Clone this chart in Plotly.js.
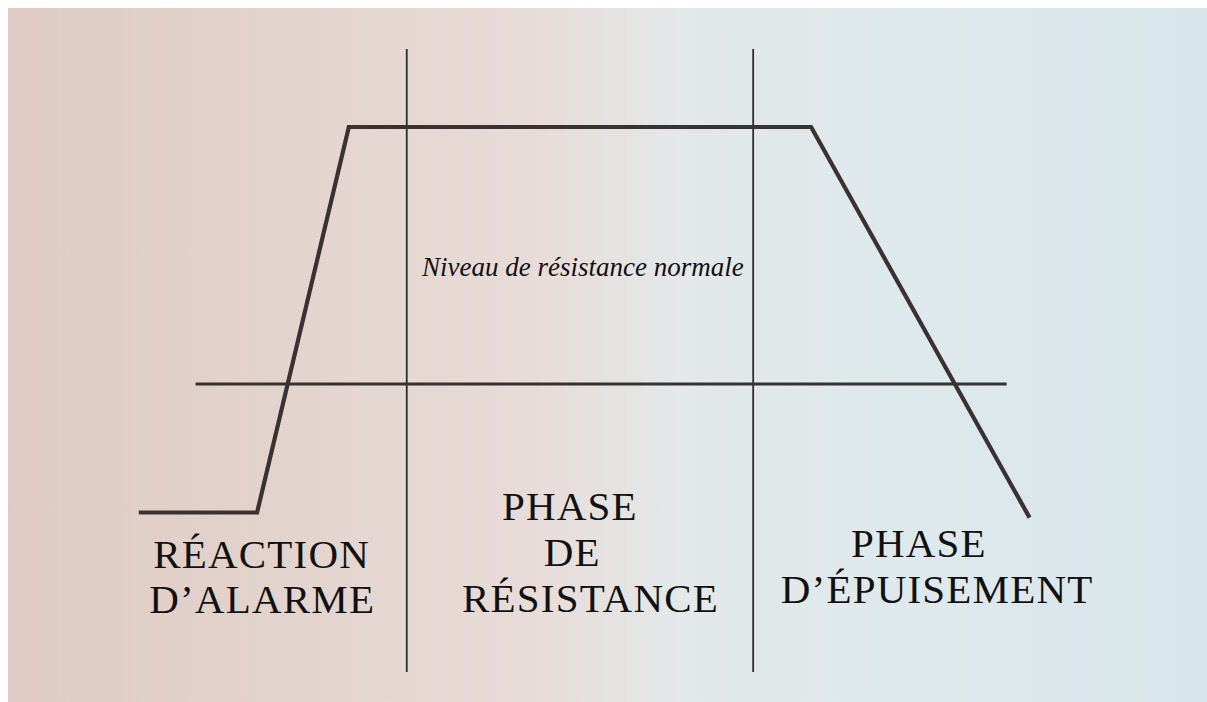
<html><head>
<meta charset="utf-8">
<style>
body {
  margin: 0;
  background: #ffffff;
  width: 1207px;
  height: 702px;
  overflow: hidden;
  position: relative;
}
.backdrop {
  position: absolute;
  left: 8px;
  top: 8px;
  right: 0;
  bottom: 0;
  background: linear-gradient(90deg, #dfcbc3 0%, #e3d4ce 25%, #e8dcd8 44%, #e3e8e9 56%, #dee9ec 75%, #d8e5ea 100%);
}
#chart {
  position: absolute;
  left: 0;
  top: 0;
}
#chart .annotation-text {
  letter-spacing: 1.2px;
}
#chart .annotation:last-child .annotation-text {
  letter-spacing: 0;
}
</style>
<script src="https://cdn.plot.ly/plotly-3.0.1.min.js"></script>
</head>
<body>
<div class="backdrop"></div>
<div id="chart"></div>
<script>
// stress response curve (time units, resistance level; 0 = normal level)
const stressTime = [11.5, 21.3, 28.9, 67.2, 85.3];
const stressLevel = [-50, -50, 100, 100, -52];

// normal resistance baseline
const normalTime = [16.2, 83.4];
const normalLevel = [0, 0];

// phase boundaries
const phaseBounds = [33.7, 62.4];
const phaseLineSpan = [130.4, -112.1];

// labels
const phaseLines = ['RÉACTION', 'D’ALARME', 'PHASE', 'DE', 'RÉSISTANCE', 'PHASE', 'D’ÉPUISEMENT'];
const phaseLineX = [21.7, 21.7, 47.2, 47.4, 48.9, 76.1, 77.6];
const phaseLineY = [-66.1, -83.7, -47.5, -65.4, -83.3, -61.9, -79.8];
const normalLabel = 'Niveau de résistance normale';
const normalLabelPos = [48.3, 45.5];

function drawChart() {
  const traces = [];

  phaseBounds.forEach(function (b) {
    traces.push({
      x: [b, b],
      y: phaseLineSpan,
      type: 'scatter',
      mode: 'lines',
      line: {color: '#2f2c2c', width: 1.8},
      hoverinfo: 'skip'
    });
  });

  traces.push({
    x: normalTime,
    y: normalLevel,
    type: 'scatter',
    mode: 'lines',
    line: {color: '#363131', width: 3},
    hoverinfo: 'skip'
  });

  traces.push({
    x: stressTime,
    y: stressLevel,
    type: 'scatter',
    mode: 'lines',
    line: {color: '#3a3232', width: 4.2},
    hoverinfo: 'skip'
  });

  const annotations = phaseLines.map(function (t, i) {
    return {
      text: t,
      x: phaseLineX[i],
      y: phaseLineY[i],
      xref: 'x', yref: 'y',
      xanchor: 'center', yanchor: 'middle',
      showarrow: false,
      font: {family: 'Liberation Serif, Times New Roman, serif', size: 41, color: '#111111'}
    };
  });

  // italic label last, so the css rule above drops its letter spacing
  annotations.push({
    text: '<i>' + normalLabel + '</i>',
    x: normalLabelPos[0],
    y: normalLabelPos[1],
    xref: 'x', yref: 'y',
    xanchor: 'center', yanchor: 'middle',
    showarrow: false,
    font: {family: 'Liberation Serif, serif', size: 27, color: '#111111'}
  });

  const layout = {
    width: 1207,
    height: 702,
    margin: {l: 0, r: 0, t: 0, b: 0},
    paper_bgcolor: 'rgba(0,0,0,0)',
    plot_bgcolor: 'rgba(0,0,0,0)',
    showlegend: false,
    xaxis: {range: [0, 100], visible: false, fixedrange: true},
    yaxis: {range: [-123.74, 149.42], visible: false, fixedrange: true},
    annotations: annotations
  };

  Plotly.newPlot('chart', traces, layout, {displayModeBar: false, staticPlot: true});
}

drawChart();
</script>
</body></html>
